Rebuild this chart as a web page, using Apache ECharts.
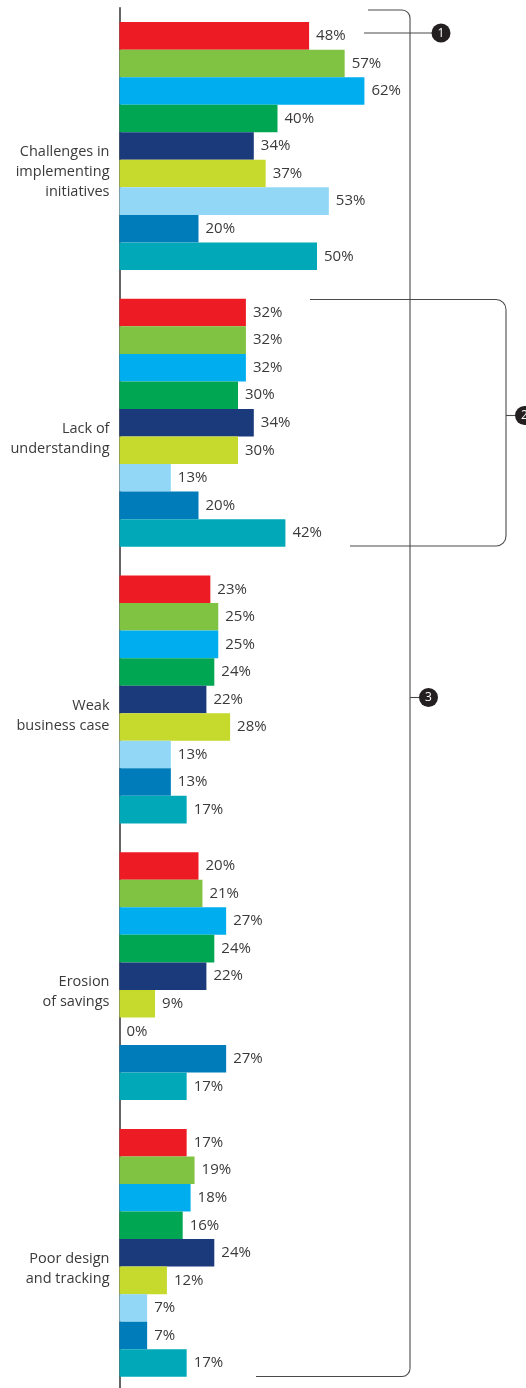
<!DOCTYPE html>
<html>
<head>
<meta charset="utf-8">
<script src="https://cdn.jsdelivr.net/npm/echarts@6/dist/echarts.min.js"></script>
<style>
  html, body { margin: 0; padding: 0; background: #fff; }
  #chart { width: 526px; height: 1388px; }
</style>
</head>
<body>
<div id="chart"></div>
<script>
// Barrier categories, top to bottom
const categories = [
  'Challenges in\nimplementing\ninitiatives',
  'Lack of\nunderstanding',
  'Weak\nbusiness case',
  'Erosion\nof savings',
  'Poor design\nand tracking'
];

// One series per respondent group (percent), in the category order above
const groupA = [48, 32, 23, 20, 17];
const groupB = [57, 32, 25, 21, 19];
const groupC = [62, 32, 25, 27, 18];
const groupD = [40, 30, 24, 24, 16];
const groupE = [34, 34, 22, 22, 24];
const groupF = [37, 30, 28, 9, 12];
const groupG = [53, 13, 13, 0, 7];
const groupH = [20, 20, 13, 27, 7];
const groupI = [50, 42, 17, 17, 17];

const seriesData = [groupA, groupB, groupC, groupD, groupE, groupF, groupG, groupH, groupI];
const seriesNames = ['A', 'B', 'C', 'D', 'E', 'F', 'G', 'H', 'I'];
const palette = ['#ED1C24', '#80C242', '#00AEEF', '#00A651', '#1B3A7B',
                 '#C6D92D', '#92D8F6', '#007CBA', '#00A8B8'];

const FONT = '"Open Sans", "Noto Sans", sans-serif';
const chart = echarts.init(document.getElementById('chart'), null, { renderer: 'canvas' });

const series = seriesData.map((vals, i) => ({
  name: seriesNames[i],
  type: 'bar',
  data: vals,
  barGap: '0%',
  barCategoryGap: '10.4%',
  itemStyle: { color: palette[i] },
  label: {
    show: true,
    position: 'right',
    distance: 7,
    formatter: '{c}%',
    fontFamily: FONT,
    fontSize: 15,
    color: '#3a3a3a'
  },
  silent: true
}));

// Bracket and callout styling
const LINE = { stroke: '#4a4a4a', lineWidth: 1.1, fill: null };
function seg(x1, y1, x2, y2) {
  return { type: 'line', shape: { x1: x1, y1: y1, x2: x2, y2: y2 }, style: LINE, z: 5 };
}
function corner(cx, cy, r, a0, a1) {
  return { type: 'arc', shape: { cx: cx, cy: cy, r: r, startAngle: a0, endAngle: a1, clockwise: true },
    style: LINE, z: 5 };
}
// Right-side bracket: horizontal top edge, rounded corners, vertical spine, horizontal bottom edge
function bracket(xTop, xBottom, xSpine, yTop, yBottom, r) {
  return [
    seg(xTop, yTop, xSpine - r, yTop),
    corner(xSpine - r, yTop + r, r, -Math.PI / 2, 0),
    seg(xSpine, yTop + r, xSpine, yBottom - r),
    corner(xSpine - r, yBottom - r, r, 0, Math.PI / 2),
    seg(xSpine - r, yBottom, xBottom, yBottom)
  ];
}
function badge(cx, cy, text) {
  return [
    { type: 'circle', shape: { cx: cx, cy: cy, r: 9.5 }, style: { fill: '#231F20' }, z: 10 },
    { type: 'text', x: cx, y: cy + 0.5, style: { text: text, fill: '#fff', font: '12px ' + FONT,
      align: 'center', verticalAlign: 'middle' }, z: 11 }
  ];
}

const graphics = [].concat(
  bracket(368, 256, 410, 10, 1376.5, 8),
  [seg(410, 697.5, 420, 697.5)],
  [seg(364, 33, 432, 33)],
  bracket(310, 350, 506, 299.5, 546, 10),
  [seg(506, 415.5, 516, 415.5)],
  badge(441, 33, '1'),
  badge(524.5, 415.5, '2'),
  badge(428.5, 697.5, '3')
);

chart.setOption({
  animation: false,
  backgroundColor: '#fff',
  grid: { left: 119.5, width: 395, top: 7.7, height: 1383.5, containLabel: false, outerBoundsMode: 'none' },
  xAxis: {
    type: 'value', min: 0, max: 100, show: false
  },
  yAxis: {
    type: 'category',
    data: categories,
    inverse: true,
    axisLine: { show: true, lineStyle: { color: '#333', width: 1.5 } },
    axisTick: { show: false },
    splitLine: { show: false },
    axisLabel: {
      margin: 10,
      align: 'right',
      verticalAlign: 'top',
      padding: [-4, 0, 0, 0],
      lineHeight: 20,
      fontFamily: FONT,
      fontSize: 14.5,
      color: '#3a3a3a'
    }
  },
  series: series,
  graphic: graphics
});
</script>
</body>
</html>
